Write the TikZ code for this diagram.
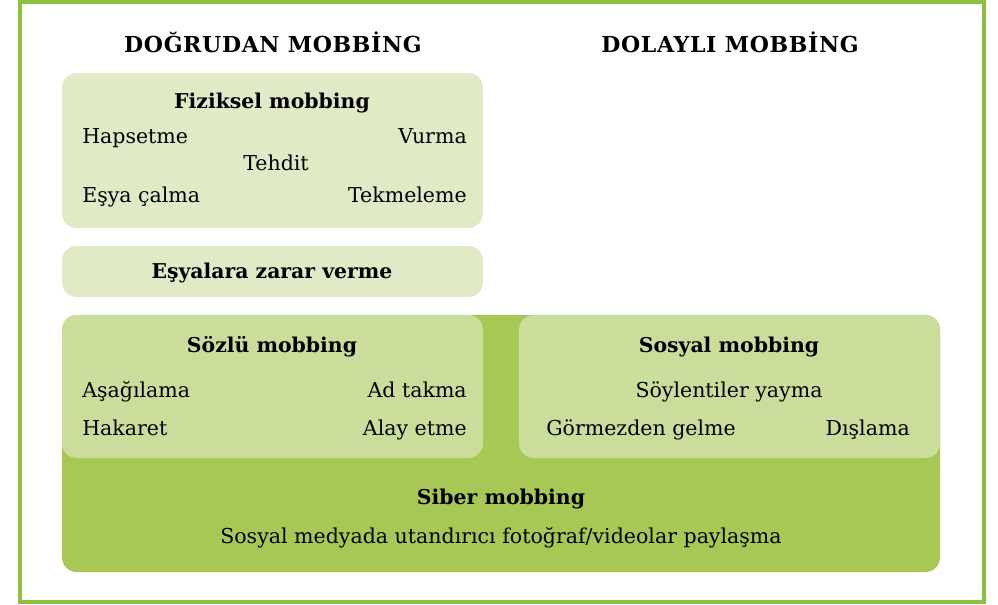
\documentclass[tikz,border=0pt]{standalone}
\usepackage{fontspec}
\setmainfont{DejaVu Serif}
\definecolor{rimgreen}{HTML}{8DC03F}
\definecolor{darkbox}{HTML}{A7C855}
\definecolor{midbox}{HTML}{CBDD9B}
\definecolor{lightbox}{HTML}{E0EAC6}
\tikzset{
  heading/.style={font=\fontsize{16.5}{20}\selectfont\bfseries\addfontfeature{LetterSpace=3}, anchor=base, inner sep=0pt},
  boxtitle/.style={font=\fontsize{15.3}{19}\selectfont\bfseries, anchor=base, inner sep=0pt},
  item/.style={font=\fontsize{15.4}{19}\selectfont, anchor=base, inner sep=0pt},
  panel/.style={rounded corners=11pt},
}
\begin{document}
\begin{tikzpicture}[x=0.75pt, y=-0.75pt]
  \path
  (0,0) coordinate (TL)
  (998,604) coordinate (BR)
  (62,73) coordinate (F1) (483,228) coordinate (F2)
  (62,246) coordinate (E1) (483,297) coordinate (E2)
  (62,315) coordinate (S1) (940,572) coordinate (S2)
  (62,315) coordinate (V1) (483,458) coordinate (V2)
  (519,315) coordinate (O1) (940,458) coordinate (O2)
  ;
  \useasboundingbox (TL) rectangle (BR);
  \draw[rimgreen, line width=3pt] (20,2) rectangle (984,602);

  % headings
  \node[heading] (direct) at (273,52) {DOĞRUDAN MOBBİNG};
  \node[heading] (indirect) at (730,52) {DOLAYLI MOBBİNG};

  % panels
  \fill[lightbox, panel] (F1) rectangle (F2);
  \fill[lightbox, panel] (E1) rectangle (E2);
  \fill[darkbox, panel] (S1) rectangle (S2);
  \fill[midbox, panel] (V1) rectangle (V2);
  \fill[midbox, panel] (O1) rectangle (O2);

  % Fiziksel
  \node[boxtitle] (fiz) at (272,108) {Fiziksel mobbing};
  \node[item, anchor=base west] (haps) at (82,143) {Hapsetme};
  \node[item, anchor=base east] (vurma) at (467,143) {Vurma};
  \node[item] (tehdit) at (276,170) {Tehdit};
  \node[item, anchor=base west] (calma) at (82,202) {Eşya çalma};
  \node[item, anchor=base east] (tekme) at (467,202) {Tekmeleme};

  \node[boxtitle] (zarar) at (272,278) {Eşyalara zarar verme};

  % Sozlu
  \node[boxtitle] (soz) at (272,352) {Sözlü mobbing};
  \node[item, anchor=base west] (asag) at (82,397) {Aşağılama};
  \node[item, anchor=base east] (adtak) at (467,397) {Ad takma};
  \node[item, anchor=base west] (hakar) at (82,435) {Hakaret};
  \node[item, anchor=base east] (alay) at (467,435) {Alay etme};

  % Sosyal
  \node[boxtitle] (sos) at (729,352) {Sosyal mobbing};
  \node[item] (soylen) at (729,397) {Söylentiler yayma};
  \node[item, anchor=base west] (gorm) at (546,435) {Görmezden gelme};
  \node[item, anchor=base east] (disla) at (910,435) {Dışlama};

  % Siber
  \node[boxtitle] (siber) at (501,504) {Siber mobbing};
  \node[item] (medya) at (501,543) {Sosyal medyada utandırıcı fotoğraf/videolar paylaşma};
\end{tikzpicture}
\end{document}
